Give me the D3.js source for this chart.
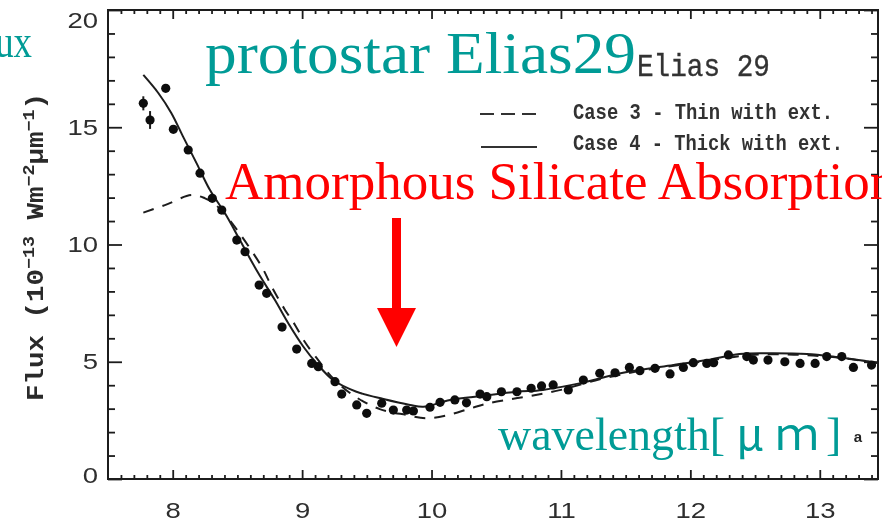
<!DOCTYPE html>
<html>
<head>
<meta charset="utf-8">
<script src="https://cdn.jsdelivr.net/npm/d3@7/dist/d3.min.js"></script>
<style>
  body { margin: 0; background: #fff; }
  svg { display: block; }
</style>
</head>
<body>
<svg id="chart" width="882" height="522"></svg>
<script>
// Observed spectrum of Elias 29 (flux in 1e-13 W m^-2 um^-1)
const obsWavelength = [7.773, 7.825, 7.946, 8.005, 8.12, 8.211, 8.306, 8.379, 8.495, 8.559,
  8.668, 8.726, 8.845, 8.958, 9.074, 9.125, 9.254, 9.306, 9.422, 9.499,
  9.615, 9.705, 9.808, 9.86, 9.988, 10.066, 10.18, 10.27, 10.375, 10.427,
  10.54, 10.66, 10.77, 10.85, 10.94, 11.057, 11.173, 11.30, 11.418, 11.529,
  11.61, 11.727, 11.843, 11.946, 12.023, 12.127, 12.18, 12.294, 12.436, 12.487,
  12.60, 12.73, 12.848, 12.964, 13.054, 13.17, 13.26, 13.40];
const obsFlux = [16.02, 15.31, 16.66, 14.91, 14.03, 13.04, 11.97, 11.47, 10.19, 9.69,
  8.27, 7.92, 6.48, 5.54, 4.93, 4.79, 4.15, 3.62, 3.16, 2.80,
  3.23, 2.94, 2.94, 2.90, 3.06, 3.27, 3.37, 3.25, 3.62, 3.51,
  3.72, 3.72, 3.87, 3.97, 4.01, 3.80, 4.22, 4.51, 4.53, 4.76,
  4.62, 4.72, 4.48, 4.76, 4.96, 4.93, 4.96, 5.29, 5.22, 5.07,
  5.07, 5.00, 4.93, 4.93, 5.22, 5.22, 4.76, 4.86];
const obsError = [0.30, 0.38, 0.15];

// Model: Case 3 - thin with extinction
const case3Wavelength = [7.773, 7.94, 8.147, 8.25, 8.32, 8.4, 8.5, 8.688, 8.765, 8.868,
  8.945, 9.02, 9.113, 9.24, 9.4, 9.6, 9.808, 9.96, 10.13, 10.3,
  10.44, 10.607, 10.77, 11.0, 11.3, 11.6, 11.9, 12.2, 12.5, 12.8, 13.1, 13.45];
const case3Flux = [11.36, 11.68, 12.11, 11.97, 11.75, 11.3, 10.6, 9.05, 8.2, 7.21,
  6.57, 5.85, 5.15, 4.29, 3.55, 2.98, 2.73, 2.59, 2.73, 3.01,
  3.23, 3.40, 3.55, 3.8, 4.25, 4.6, 4.85, 5.1, 5.3, 5.3, 5.2, 4.95];

// Model: Case 4 - thick with extinction
const case4Wavelength = [7.773, 7.89, 7.99, 8.08, 8.185, 8.288, 8.404, 8.533, 8.662, 8.79,
  8.893, 9.01, 9.113, 9.24, 9.42, 9.628, 9.834, 9.937, 10.143, 10.4,
  10.66, 10.86, 11.17, 11.48, 11.87, 12.13, 12.38, 12.64, 12.9, 13.1, 13.45];
const case4Flux = [17.23, 16.45, 15.6, 14.6, 13.46, 12.32, 11.33, 10.05, 8.77, 7.63,
  6.64, 5.64, 4.93, 4.22, 3.72, 3.41, 3.16, 3.08, 3.37, 3.55,
  3.72, 3.80, 4.11, 4.53, 4.86, 5.07, 5.33, 5.36, 5.33, 5.22, 4.95];

const xMajorTicks = [8, 9, 10, 11, 12, 13];
const yMajorTicks = [0, 5, 10, 15, 20];

const ink = '#1c1c1c';
const svg = d3.select('#chart');

const defs = svg.append('defs');
defs.append('filter').attr('id', 'soft')
  .attr('x', '-5%').attr('y', '-5%').attr('width', '110%').attr('height', '110%')
  .append('feGaussianBlur').attr('stdDeviation', 0.55);

const x = d3.scaleLinear().domain([7.5, 13.45]).range([108, 878]);
const y = d3.scaleLinear().domain([0, 20]).range([479, 10]);
const [x0, x1] = x.range();
const [y0, y1] = y.range();

const plot = svg.append('g').attr('filter', 'url(#soft)');

// Frame
plot.append('rect')
  .attr('x', x0).attr('y', y1)
  .attr('width', x1 - x0).attr('height', y0 - y1)
  .attr('fill', 'none').attr('stroke', ink).attr('stroke-width', 2);

const xMinor = d3.range(76, 135).map(d => d / 10).filter(d => !xMajorTicks.includes(d));
const yMinor = d3.range(0, 21).filter(d => !yMajorTicks.includes(d));

function styleAxis(g) {
  g.select('.domain').remove();
  g.selectAll('line').attr('stroke', ink).attr('stroke-width', 1.8);
}

// Bottom axis
plot.append('g').attr('transform', `translate(0,${y0})`)
  .call(d3.axisBottom(x).tickValues(xMinor).tickSizeInner(-4).tickSizeOuter(0).tickFormat(''))
  .call(styleAxis);
const xAxis = plot.append('g').attr('transform', `translate(0,${y0})`)
  .call(d3.axisBottom(x).tickValues(xMajorTicks).tickSizeInner(-9).tickSizeOuter(0)
    .tickPadding(23).tickFormat(d3.format('d')))
  .call(styleAxis);
xAxis.selectAll('text')
  .attr('font-family', '"Liberation Sans", Arial, sans-serif')
  .attr('font-size', 22).attr('fill', '#2e2e2e')
  .attr('transform', 'scale(1.25,1)');

// Top axis
plot.append('g').attr('transform', `translate(0,${y1})`)
  .call(d3.axisTop(x).tickValues(xMinor).tickSizeInner(-4).tickSizeOuter(0).tickFormat(''))
  .call(styleAxis);
plot.append('g').attr('transform', `translate(0,${y1})`)
  .call(d3.axisTop(x).tickValues(xMajorTicks).tickSizeInner(-9).tickSizeOuter(0).tickFormat(''))
  .call(styleAxis);

// Left axis; the end labels sit just inside the frame
const yLabelNudge = { 0: -4, 20: 10 };
plot.append('g').attr('transform', `translate(${x0},0)`)
  .call(d3.axisLeft(y).tickValues(yMinor).tickSizeInner(-7).tickSizeOuter(0).tickFormat(''))
  .call(styleAxis);
const yAxis = plot.append('g').attr('transform', `translate(${x0},0)`)
  .call(d3.axisLeft(y).tickValues(yMajorTicks).tickSizeInner(-14).tickSizeOuter(0)
    .tickPadding(8).tickFormat(d3.format('d')))
  .call(styleAxis);
yAxis.selectAll('text')
  .attr('font-family', '"Liberation Sans", Arial, sans-serif')
  .attr('font-size', 22).attr('fill', '#2e2e2e')
  .attr('y', d => yLabelNudge[d] || 0)
  .attr('transform', 'scale(1.25,1)');

// Right axis
plot.append('g').attr('transform', `translate(${x1},0)`)
  .call(d3.axisRight(y).tickValues(yMinor).tickSizeInner(-7).tickSizeOuter(0).tickFormat(''))
  .call(styleAxis);
plot.append('g').attr('transform', `translate(${x1},0)`)
  .call(d3.axisRight(y).tickValues(yMajorTicks).tickSizeInner(-14).tickSizeOuter(0).tickFormat(''))
  .call(styleAxis);

// Y axis title
const mono = '"Liberation Mono", "Courier New", monospace';
const yTitle = plot.append('text')
  .attr('transform', `translate(43,247) rotate(-90)`)
  .attr('text-anchor', 'middle')
  .attr('font-family', mono).attr('font-weight', 'bold')
  .attr('font-size', 24).attr('fill', '#2a2a2a')
  .attr('textLength', 308).attr('lengthAdjust', 'spacingAndGlyphs');
yTitle.append('tspan').text('Flux (10');
yTitle.append('tspan').attr('dy', -9).attr('font-size', 16).text('\u221213');
yTitle.append('tspan').attr('dy', 9).text(' Wm');
yTitle.append('tspan').attr('dy', -9).attr('font-size', 16).text('\u22122');
yTitle.append('tspan').attr('dy', 9).text('\u03bcm');
yTitle.append('tspan').attr('dy', -9).attr('font-size', 16).text('\u22121');
yTitle.append('tspan').attr('dy', 9).text(')');

// Model curves
const line = d3.line().x(d => x(d[0])).y(d => y(d[1])).curve(d3.curveCatmullRom.alpha(0.5));
plot.append('path')
  .datum(d3.zip(case3Wavelength, case3Flux))
  .attr('d', line).attr('fill', 'none')
  .attr('stroke', ink).attr('stroke-width', 2).attr('stroke-dasharray', '11,9');
plot.append('path')
  .datum(d3.zip(case4Wavelength, case4Flux))
  .attr('d', line).attr('fill', 'none')
  .attr('stroke', ink).attr('stroke-width', 2);

// Observed points with error bars
const obs = d3.zip(obsWavelength, obsFlux).map((d, i) => ({ w: d[0], f: d[1], e: obsError[i] || 0 }));
plot.append('g').selectAll('line').data(obs.filter(d => d.e > 0)).join('line')
  .attr('x1', d => x(d.w)).attr('x2', d => x(d.w))
  .attr('y1', d => y(d.f - d.e)).attr('y2', d => y(d.f + d.e))
  .attr('stroke', ink).attr('stroke-width', 2);
plot.append('g').selectAll('circle').data(obs).join('circle')
  .attr('cx', d => x(d.w)).attr('cy', d => y(d.f)).attr('r', 4.6)
  .attr('fill', '#111');

// Legend
plot.append('text').attr('transform', 'translate(637,76) scale(1,1.15)')
  .attr('font-family', mono).attr('font-size', 28).attr('fill', '#333')
  .attr('stroke', '#333').attr('stroke-width', 0.3)
  .attr('textLength', 133).attr('lengthAdjust', 'spacingAndGlyphs')
  .text('Elias 29');
plot.append('line').attr('x1', 480).attr('x2', 537).attr('y1', 114).attr('y2', 114)
  .attr('stroke', '#333').attr('stroke-width', 2).attr('stroke-dasharray', '14,7');
plot.append('text').attr('transform', 'translate(573,119) scale(1,1.18)')
  .attr('font-family', mono).attr('font-size', 19).attr('font-weight', 'bold').attr('fill', '#333')
  .attr('textLength', 260).attr('lengthAdjust', 'spacingAndGlyphs')
  .text('Case 3 - Thin with ext.');
plot.append('line').attr('x1', 481).attr('x2', 537).attr('y1', 147).attr('y2', 147)
  .attr('stroke', '#333').attr('stroke-width', 2);
plot.append('text').attr('transform', 'translate(573,150) scale(1,1.18)')
  .attr('font-family', mono).attr('font-size', 19).attr('font-weight', 'bold').attr('fill', '#333')
  .attr('textLength', 270).attr('lengthAdjust', 'spacingAndGlyphs')
  .text('Case 4 - Thick with ext.');

// Panel letter
plot.append('text').attr('x', 858).attr('y', 442).attr('text-anchor', 'middle')
  .attr('font-family', '"Liberation Sans", Arial, sans-serif').attr('font-weight', 'bold')
  .attr('font-size', 15).attr('fill', '#222').text('a');

// Slide annotations
const serif = '"Liberation Serif", "Times New Roman", serif';
const cjk = '"Noto Sans CJK JP", "Noto Sans", sans-serif';
const teal = '#009b96';
svg.append('text').attr('transform', 'translate(32,57) scale(0.8,1)').attr('text-anchor', 'end')
  .attr('font-family', serif).attr('font-size', 46).attr('fill', teal).text('Flux');
svg.append('text').attr('x', 205).attr('y', 73)
  .attr('font-family', serif).attr('font-size', 60).attr('fill', teal)
  .attr('textLength', 431).attr('lengthAdjust', 'spacingAndGlyphs')
  .text('protostar Elias29');
svg.append('text').attr('x', 225).attr('y', 199)
  .attr('font-family', serif).attr('font-size', 53).attr('fill', '#ff0000')
  .text('Amorphous Silicate Absorption');

svg.append('text').attr('x', 498).attr('y', 450)
  .attr('font-family', serif).attr('font-size', 46).attr('fill', teal)
  .attr('textLength', 227).attr('lengthAdjust', 'spacingAndGlyphs')
  .text('wavelength[');
svg.append('text').attr('x', 750).attr('y', 450).attr('text-anchor', 'middle')
  .attr('font-family', cjk).attr('font-size', 44).attr('fill', teal).text('\u03bc');
svg.append('text').attr('x', 797).attr('y', 450).attr('text-anchor', 'middle')
  .attr('font-family', cjk).attr('font-size', 44).attr('fill', teal).text('\uff4d');
svg.append('text').attr('x', 826).attr('y', 450)
  .attr('font-family', serif).attr('font-size', 46).attr('fill', teal).text(']');

// Arrow pointing at the absorption trough
const arrow = svg.append('g').attr('fill', '#ff0000');
arrow.append('rect').attr('x', 392).attr('y', 218).attr('width', 9).attr('height', 92);
arrow.append('polygon').attr('points', '377,308 416,308 396.5,347');
</script>
</body>
</html>
